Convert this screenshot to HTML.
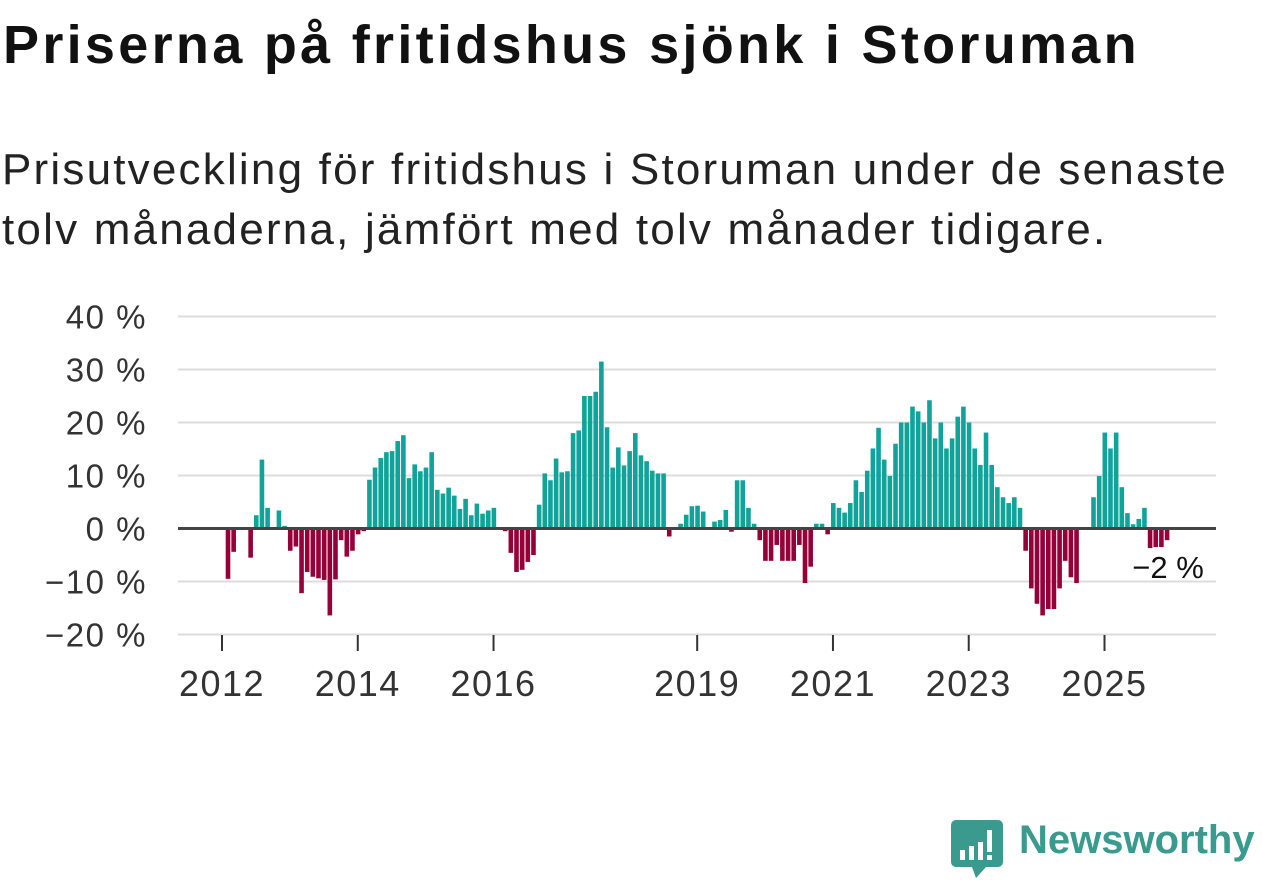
<!DOCTYPE html>
<html><head><meta charset="utf-8"><style>
html,body{margin:0;padding:0;background:#fff;}
body{width:1262px;height:879px;overflow:hidden;position:relative;font-family:"Liberation Sans",sans-serif;}
#title{position:absolute;left:3px;top:14px;font-size:54px;line-height:normal;font-weight:bold;color:#111;margin:0;letter-spacing:3.3px;white-space:nowrap;}
#sub{position:absolute;left:2px;top:140px;font-size:44px;line-height:60px;color:#222;margin:0;letter-spacing:2.2px;white-space:nowrap;}
#chart{position:absolute;left:0;top:0;}
#logo{position:absolute;left:950px;top:818px;}
#logo-text{position:absolute;left:1019px;top:818px;font-size:40px;font-weight:bold;color:#3a9a8e;white-space:nowrap;}
</style></head><body>
<h1 id="title">Priserna på fritidshus sjönk i Storuman</h1>
<p id="sub">Prisutveckling för fritidshus i Storuman under de senaste<br>tolv månaderna, jämfört med tolv månader tidigare.</p>
<svg id="chart" width="1262" height="879"></svg>
<svg id="logo" width="54" height="62" viewBox="0 0 54 62">
<path d="M6 2 H48 a5 5 0 0 1 5 5 V44 a5 5 0 0 1 -5 5 H36 L26 60 L22 49 H6 a5 5 0 0 1 -5 -5 V7 a5 5 0 0 1 5 -5 Z" fill="#3a9a8e"/>
<rect x="10" y="32" width="5" height="10" fill="#fff"/><rect x="19" y="28" width="5" height="14" fill="#fff"/><rect x="28" y="24" width="5" height="18" fill="#fff"/><rect x="37" y="12" width="5" height="22" fill="#fff"/><rect x="37" y="37" width="5" height="5" fill="#fff"/>
</svg>
<div id="logo-text">Newsworthy</div>
<script>
// monthly values starting Jan 2012 (null = no data)
const startYear = 2012;
const values = [
-9.5,-4.4,null,null,-5.5,2.5,13.0,3.9,null,3.4,0.5,-4.2,
-3.4,-12.2,-8.2,-9.1,-9.4,-9.7,-16.4,-9.6,-2.2,-5.3,-4.2,-1.1,
-0.5,9.2,11.5,13.3,14.4,14.6,16.5,17.6,9.5,12.1,10.8,11.5,
14.4,7.3,6.6,7.7,6.2,3.7,5.6,2.5,4.7,2.8,3.4,3.9,
null,-0.5,-4.6,-8.2,-7.8,-6.3,-5.0,4.5,10.4,9.1,13.2,10.6,
10.8,18.0,18.5,25.0,25.0,25.8,31.5,19.1,11.5,15.3,11.9,14.6,
18.0,13.8,12.7,10.9,10.4,10.4,-1.5,null,0.9,2.6,4.2,4.3,
3.2,null,1.3,1.6,3.5,-0.6,9.1,9.1,3.9,0.9,-2.2,-6.1,
-6.1,-3.1,-6.1,-6.1,-6.1,-3.1,-10.3,-7.2,0.9,0.9,-1.1,4.8,
3.9,3.0,4.8,9.1,6.9,10.9,15.1,19.0,13.0,9.9,16.0,20.0,
20.0,23.0,22.1,20.0,24.2,17.0,20.0,15.1,17.0,21.1,23.0,20.0,
15.1,12.0,18.1,12.0,7.8,5.9,4.8,5.9,3.9,-4.2,-11.3,-14.2,
-16.4,-15.2,-15.2,-11.3,-6.1,-9.2,-10.3,null,null,5.9,9.9,18.1,
15.1,18.1,7.8,2.9,0.8,1.8,3.9,-3.7,-3.5,-3.5,-2.2
];
const yTicks = [40,30,20,10,0,-10,-20];
const yTickLabels = ["40 %","30 %","20 %","10 %","0 %","\u221210 %","\u221220 %"];
const xTickYears = [2012,2014,2016,2019,2021,2023,2025];
const lastLabel = "\u22122 %";

const svg = document.getElementById('chart');
const NS = 'http://www.w3.org/2000/svg';
const X0 = 178, X1 = 1216, step = 5.657, firstCenter = 228;
function xScale(i){ return firstCenter + i*step; }
function yScale(v){ return 528.5 - v*5.3; }
function mk(tag, attrs){ const e=document.createElementNS(NS,tag); for(const k in attrs) e.setAttribute(k,attrs[k]); svg.appendChild(e); return e; }

yTicks.forEach((t,i)=>{
  if(t!==0){
    const g = mk('line',{x1:X0,x2:X1,y1:yScale(t),y2:yScale(t),stroke:'#dcdcdc','stroke-width':2});
    
    
  }
  const tx = mk('text',{x:147,y:yScale(t)+12,'text-anchor':'end','font-size':33,'letter-spacing':1.5,fill:'#333','font-family':'Liberation Sans, sans-serif'});
  tx.textContent = yTickLabels[i];
  
  
});

xTickYears.forEach(yr=>{
  const x = xScale((yr-startYear)*12) - 6;
  const tk = mk('line',{x1:x,x2:x,y1:635,y2:651,stroke:'#333','stroke-width':2});
  
  
  const tx = mk('text',{x:x,y:696,'text-anchor':'middle','font-size':36,'letter-spacing':1.5,fill:'#333','font-family':'Liberation Sans, sans-serif'});
  tx.textContent = String(yr);
  
  
});

values.forEach((v,i)=>{
  if(v===null) return;
  const y0 = yScale(0), y1 = yScale(v);
  const r = mk('rect',{x:xScale(i)-2.3,width:4.6,y:Math.min(y0,y1),height:Math.abs(y1-y0),fill:v>=0?'#0fa39a':'#960038'});
  
  
});

const zl = mk('line',{x1:X0,x2:X1,y1:yScale(0),y2:yScale(0),stroke:'#444','stroke-width':3});



const lastIdx = values.length-1;
const ll = mk('text',{x:xScale(lastIdx)+1,y:578,'text-anchor':'middle','font-size':31,fill:'#111','font-family':'Liberation Sans, sans-serif',stroke:'#fff','stroke-width':5,'paint-order':'stroke'});
ll.textContent = lastLabel;


</script>
</body></html>
